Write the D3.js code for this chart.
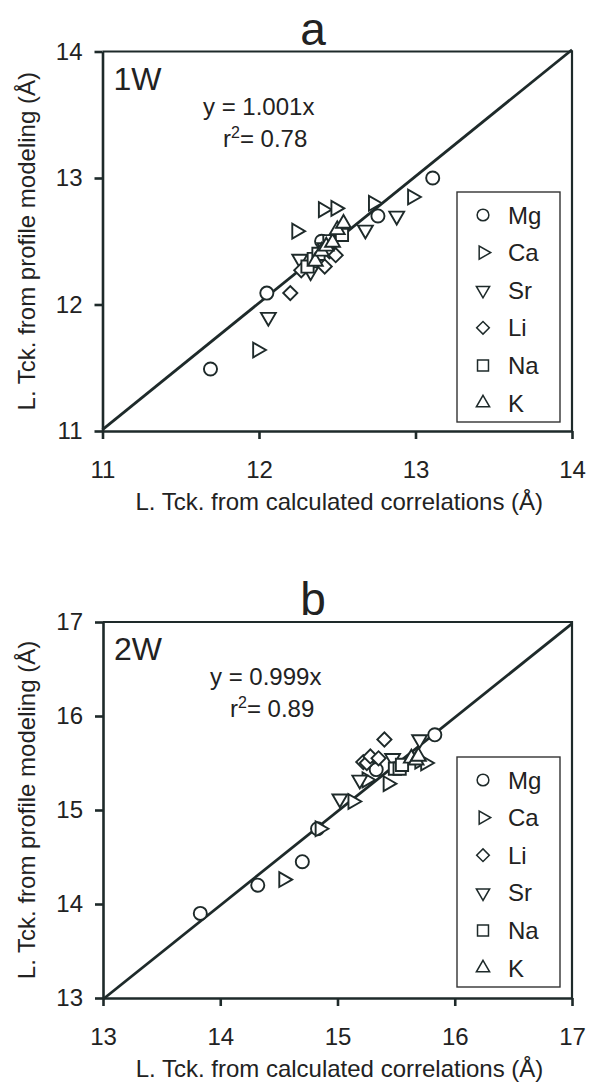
<!DOCTYPE html>
<html>
<head>
<meta charset="utf-8">
<script src="https://cdn.jsdelivr.net/npm/d3@7"></script>
<style>
  body { margin: 0; background: #fff; }
  svg { display: block; }
  text { font-family: "Liberation Sans", Arial, sans-serif; fill: #222; }
</style>
</head>
<body>
<div id="chart"></div>
<script>
// ---- data ----
// panel a (1W)
var seriesA = ["Mg", "Ca", "Sr", "Li", "Na", "K"];
var mgA = [[11.69, 11.49], [12.05, 12.09], [12.40, 12.50], [12.76, 12.70], [13.11, 13.00]];
var caA = [[11.99, 11.64], [12.24, 12.58], [12.41, 12.75], [12.49, 12.76], [12.73, 12.80], [12.98, 12.85]];
var srA = [[12.06, 11.90], [12.26, 12.36], [12.33, 12.26], [12.42, 12.45], [12.68, 12.59], [12.88, 12.70]];
var liA = [[12.20, 12.09], [12.27, 12.27], [12.42, 12.30], [12.45, 12.42], [12.49, 12.39]];
var naA = [[12.31, 12.30], [12.35, 12.36], [12.38, 12.40], [12.45, 12.50], [12.53, 12.55]];
var kA  = [[12.36, 12.34], [12.40, 12.42], [12.43, 12.46], [12.47, 12.49], [12.50, 12.59], [12.54, 12.64]];

// panel b (2W)
var seriesB = ["Mg", "Ca", "Li", "Sr", "Na", "K"];
var mgB = [[13.83, 13.90], [14.32, 14.20], [14.70, 14.45], [14.83, 14.80], [15.33, 15.43], [15.83, 15.80]];
var caB = [[14.54, 14.26], [14.85, 14.80], [15.13, 15.09], [15.25, 15.32], [15.43, 15.28], [15.70, 15.52], [15.75, 15.50]];
var liB = [[15.22, 15.51], [15.25, 15.50], [15.28, 15.57], [15.35, 15.55], [15.40, 15.75]];
var srB = [[15.02, 15.12], [15.19, 15.32], [15.47, 15.55], [15.70, 15.75]];
var naB = [[15.49, 15.44], [15.53, 15.44], [15.55, 15.48]];
var kB  = [[15.63, 15.55], [15.67, 15.53], [15.69, 15.57]];

var ticksA = [11, 12, 13, 14];
var ticksB = [13, 14, 15, 16, 17];

var ink = "#1e2a2a";

var svg = d3.select("#chart").append("svg")
  .attr("width", 591)
  .attr("height", 1082);

// marker shapes: type + rotation
var shapes = {
  Mg: { type: d3.symbolCircle, size: 135, rot: 0 },
  Ca: { type: d3.symbolTriangle, size: 95, rot: 90 },
  Sr: { type: d3.symbolTriangle, size: 95, rot: 180 },
  Li: { type: d3.symbolSquare, size: 100, rot: 45 },
  Na: { type: d3.symbolSquare, size: 150, rot: 0 },
  K:  { type: d3.symbolTriangle, size: 95, rot: 0 }
};

function drawPanel(p) {
  var x = d3.scaleLinear().domain(p.domain).range([p.left, p.right]);
  var y = d3.scaleLinear().domain(p.domain).range([p.bottom, p.top]);
  var g = svg.append("g");

  // frame top + right
  g.append("path")
    .attr("d", "M" + x(p.domain[0]) + "," + y(p.domain[1]) + "H" + x(p.domain[1]) + "V" + y(p.domain[0]))
    .attr("fill", "none").attr("stroke", ink).attr("stroke-width", 2.2);

  // axes
  var ax = g.append("g").attr("transform", "translate(0," + p.bottom + ")")
    .call(d3.axisBottom(x).tickValues(p.ticks).tickSize(8).tickSizeOuter(0).tickPadding(22).tickFormat(d3.format("d")));
  var ay = g.append("g").attr("transform", "translate(" + p.left + ",0)")
    .call(d3.axisLeft(y).tickValues(p.ticks).tickSize(8).tickSizeOuter(0).tickPadding(12).tickFormat(d3.format("d")));
  [ax, ay].forEach(function (a) {
    a.selectAll("path.domain").attr("stroke", ink).attr("stroke-width", 2.6);
    a.selectAll(".tick line").attr("stroke", ink).attr("stroke-width", 2.6);
    a.selectAll(".tick text").attr("fill", "#222")
      .style("font-family", "Liberation Sans, Arial, sans-serif").style("font-size", "24px");
  });

  // 1:1 fit line
  g.append("line")
    .attr("x1", x(p.domain[0])).attr("y1", y(p.domain[0] * p.slope))
    .attr("x2", x(p.domain[1])).attr("y2", y(p.domain[1] * p.slope))
    .attr("stroke", ink).attr("stroke-width", 2.8);

  // points
  p.series.forEach(function (name) {
    var s = shapes[name];
    g.selectAll(null)
      .data(p.data[name])
      .enter()
      .append("path")
      .attr("d", d3.symbol().type(s.type).size(s.size))
      .attr("transform", function (d) {
        return "translate(" + x(d[0]) + "," + y(d[1]) + ") rotate(" + s.rot + ")";
      })
      .attr("fill", "white")
      .attr("stroke", ink)
      .attr("stroke-width", 1.9);
  });

  // legend
  var lg = g.append("g");
  lg.append("rect")
    .attr("x", p.legend.x).attr("y", p.legend.y)
    .attr("width", 103).attr("height", 230)
    .attr("fill", "white").attr("stroke", "#333").attr("stroke-width", 1.4);
  p.series.forEach(function (name, i) {
    var s = shapes[name];
    var cy = p.legend.y + 23 + i * 37.6;
    lg.append("path")
      .attr("d", d3.symbol().type(s.type).size(s.size * 0.8))
      .attr("transform", "translate(" + (p.legend.x + 26) + "," + cy + ") rotate(" + s.rot + ")")
      .attr("fill", "white").attr("stroke", ink).attr("stroke-width", 1.5);
    lg.append("text")
      .attr("x", p.legend.x + 51).attr("y", cy).attr("dy", "0.36em")
      .style("font-size", "24px")
      .text(name);
  });

  // texts
  g.append("text").attr("x", 313).attr("y", p.top - 7)
    .attr("text-anchor", "middle").style("font-size", "46px").text(p.letter);
  g.append("text").attr("x", p.left + 11).attr("y", p.top + 38)
    .style("font-size", "32px").text(p.tag);
  g.append("text").attr("x", p.eqX).attr("y", p.top + 63)
    .style("font-size", "24px").text(p.eq);
  var r2 = g.append("text").attr("x", p.eqX + 20).attr("y", p.top + 95)
    .style("font-size", "24px");
  r2.append("tspan").text("r");
  r2.append("tspan").attr("dy", "-9").style("font-size", "16px").text("2");
  r2.append("tspan").attr("dy", "9").text("= " + p.r2);

  g.append("text")
    .attr("x", (p.left + p.right) / 2 + 2).attr("y", p.bottom + 79)
    .attr("text-anchor", "middle").style("font-size", "24px")
    .text("L. Tck. from calculated correlations (Å)");
  g.append("text")
    .attr("transform", "translate(35," + (p.top + p.bottom) / 2 + ") rotate(-90)")
    .attr("text-anchor", "middle").style("font-size", "24px")
    .text("L. Tck. from profile modeling (Å)");
}

drawPanel({
  domain: [11, 14], ticks: ticksA, left: 102.5, right: 572, top: 51.5, bottom: 431,
  slope: 1.001, series: seriesA,
  data: { Mg: mgA, Ca: caA, Sr: srA, Li: liA, Na: naA, K: kA },
  legend: { x: 457, y: 192 },
  letter: "a", tag: "1W", eq: "y = 1.001x", r2: "0.78", eqX: 203
});

drawPanel({
  domain: [13, 17], ticks: ticksB, left: 103, right: 572, top: 622, bottom: 998,
  slope: 0.999, series: seriesB,
  data: { Mg: mgB, Ca: caB, Li: liB, Sr: srB, Na: naB, K: kB },
  legend: { x: 457, y: 757 },
  letter: "b", tag: "2W", eq: "y = 0.999x", r2: "0.89", eqX: 210
});
</script>
</body>
</html>
